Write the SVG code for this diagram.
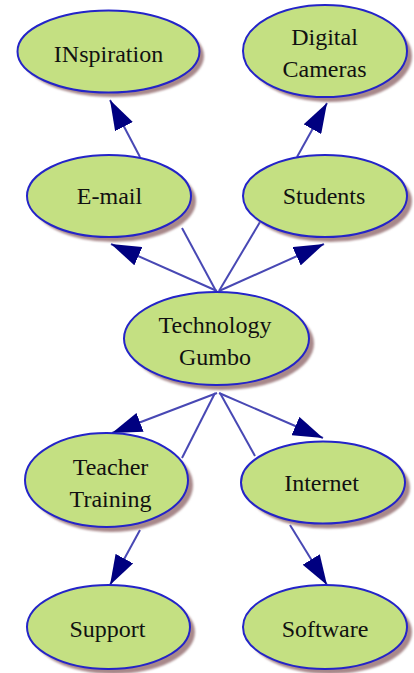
<svg xmlns="http://www.w3.org/2000/svg" width="414" height="673" viewBox="0 0 414 673">
<style>
.sh{fill:#a8888a;filter:url(#blur)}
.nd{fill:#c4e082;stroke:#2424c8;stroke-width:2}
.t{font-size:24px;fill:#111;text-anchor:middle}
.ln{stroke:#4848b4;stroke-width:2;fill:none}
.ar{stroke:#4848b4;stroke-width:2;fill:none;marker-end:url(#ah)}
</style>
<defs>
<filter id="blur" x="-10%" y="-10%" width="120%" height="120%"><feGaussianBlur stdDeviation="1.2"/></filter>
<marker id="ah" markerUnits="userSpaceOnUse" markerWidth="30" markerHeight="20" refX="30" refY="10" orient="auto" viewBox="0 0 30 20">
<path d="M0,0 L30,10 L0,20 z" fill="#000080"/>
</marker>
</defs>
<rect width="414" height="673" fill="#fff"/>
<g id="connectors">
<line class="ar" x1="140" y1="157" x2="110" y2="100"/>
<line class="ar" x1="297" y1="157" x2="327" y2="103"/>
<line class="ar" x1="217" y1="291" x2="111" y2="244"/>
<line class="ar" x1="219" y1="291" x2="324" y2="244"/>
<line class="ln" x1="182" y1="228" x2="216" y2="291"/>
<line class="ln" x1="260" y1="222" x2="219" y2="291"/>
<line class="ar" x1="217" y1="393" x2="112" y2="433"/>
<line class="ar" x1="219" y1="393" x2="323" y2="438"/>
<line class="ln" x1="182" y1="458" x2="215" y2="393"/>
<line class="ln" x1="255" y1="456" x2="220" y2="393"/>
<line class="ar" x1="140" y1="530" x2="110" y2="585"/>
<line class="ar" x1="290" y1="525" x2="327" y2="585"/>
</g>
<g id="inspiration">
<ellipse class="sh" cx="113" cy="56" rx="91" ry="41"/>
<ellipse class="nd" cx="108.5" cy="51.5" rx="91" ry="41"/>
<text class="t" font-family="Liberation Serif" x="108.5" y="62">INspiration</text>
</g>
<g id="digital-cameras">
<ellipse class="sh" cx="330" cy="56" rx="82" ry="46"/>
<ellipse class="nd" cx="325" cy="51" rx="82" ry="46"/>
<text class="t" font-family="Liberation Serif" x="324.5" y="45">Digital</text>
<text class="t" font-family="Liberation Serif" x="324.5" y="77">Cameras</text>
</g>
<g id="e-mail">
<ellipse class="sh" cx="114" cy="201" rx="82" ry="41"/>
<ellipse class="nd" cx="109" cy="196" rx="82" ry="41"/>
<text class="t" font-family="Liberation Serif" x="109.5" y="204">E-mail</text>
</g>
<g id="students">
<ellipse class="sh" cx="330" cy="201" rx="82" ry="41"/>
<ellipse class="nd" cx="325" cy="196" rx="82" ry="41"/>
<text class="t" font-family="Liberation Serif" x="324" y="204">Students</text>
</g>
<g id="technology-gumbo">
<ellipse class="sh" cx="221.5" cy="343.5" rx="92.5" ry="46.5"/>
<ellipse class="nd" cx="216.5" cy="338.5" rx="92.5" ry="46.5"/>
<text class="t" font-family="Liberation Serif" x="215" y="333">Technology</text>
<text class="t" font-family="Liberation Serif" x="215" y="365">Gumbo</text>
</g>
<g id="teacher-training">
<ellipse class="sh" cx="111.5" cy="485" rx="81.5" ry="47"/>
<ellipse class="nd" cx="106.5" cy="480" rx="81.5" ry="47"/>
<text class="t" font-family="Liberation Serif" x="110.5" y="475">Teacher</text>
<text class="t" font-family="Liberation Serif" x="110.5" y="507">Training</text>
</g>
<g id="internet">
<ellipse class="sh" cx="328" cy="487.5" rx="82" ry="41"/>
<ellipse class="nd" cx="323" cy="482.5" rx="82" ry="41"/>
<text class="t" font-family="Liberation Serif" x="321.5" y="491">Internet</text>
</g>
<g id="support">
<ellipse class="sh" cx="113.5" cy="632" rx="81.5" ry="42"/>
<ellipse class="nd" cx="108.5" cy="627" rx="81.5" ry="42"/>
<text class="t" font-family="Liberation Serif" x="107.5" y="637">Support</text>
</g>
<g id="software">
<ellipse class="sh" cx="330" cy="632" rx="82" ry="42"/>
<ellipse class="nd" cx="325" cy="627" rx="82" ry="42"/>
<text class="t" font-family="Liberation Serif" x="325" y="637">Software</text>
</g>
</svg>
